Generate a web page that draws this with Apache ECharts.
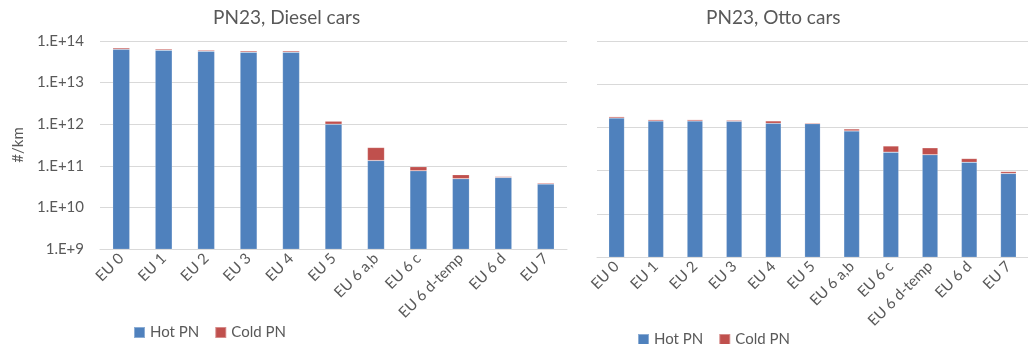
<!DOCTYPE html>
<html>
<head>
<meta charset="utf-8">
<script src="https://cdn.jsdelivr.net/npm/echarts@6/dist/echarts.min.js"></script>
<style>
  html, body { margin: 0; padding: 0; background: #fff; }
  #chart { width: 1028px; height: 344px; }
</style>
</head>
<body>
<div id="chart"></div>
<script>
// Euro emission classes
const categories = ['EU 0', 'EU 1', 'EU 2', 'EU 3', 'EU 4', 'EU 5', 'EU 6 a,b', 'EU 6 c', 'EU 6 d-temp', 'EU 6 d', 'EU 7'];

// Diesel cars, particle number per km (PN23)
const dieselHot  = [6.3e13, 6.0e13, 5.66e13, 5.36e13, 5.36e13, 1.0e12, 1.34e11, 7.6e10, 4.9e10, 5.25e10, 3.64e10];
const dieselCold = [5.0e12, 4.0e12, 3.4e12, 3.9e12, 3.9e12, 1.8e11, 1.41e11, 1.9e10, 1.2e10, 2.8e9, 2.1e9];

// Otto (petrol) cars, particle number per km (PN23)
const ottoHot  = [1.65e12, 1.41e12, 1.41e12, 1.38e12, 1.24e12, 1.22e12, 8.3e11, 2.67e11, 2.33e11, 1.56e11, 8.6e10];
const ottoCold = [1.2e11, 1.0e11, 1.0e11, 8.0e10, 1.7e11, 6.0e10, 9.0e10, 1.04e11, 1.04e11, 3.4e10, 9.0e9];

// Log axis tick labels
const yMin = 1e9;
const yMax = 1e14;
const fmtExp = v => '1.E+' + Math.round(Math.log10(v));

const FONT = 'Lato, "Open Sans", sans-serif';
const TXT = '#595959';
const GRIDC = '#d9d9d9';
const BLUE = '#4f81bd';
const RED = '#c0504d';

const chart = echarts.init(document.getElementById('chart'), null, { renderer: 'canvas' });

function xAxisFor(gridIndex) {
  return {
    type: 'category', gridIndex, data: categories,
    axisLine: { lineStyle: { color: GRIDC } },
    axisTick: { show: false },
    axisLabel: { rotate: 45, color: TXT, fontFamily: FONT, fontSize: 15, margin: 7, interval: 0 }
  };
}

function yAxisFor(gridIndex, showLabels) {
  return {
    type: 'log', gridIndex, logBase: 10, min: yMin, max: yMax,
    name: showLabels ? '#/km' : '',
    nameLocation: 'middle', nameGap: 74, nameRotate: 90,
    nameTextStyle: { color: TXT, fontFamily: FONT, fontSize: 15 },
    axisLine: { show: false }, axisTick: { show: false },
    splitLine: { lineStyle: { color: GRIDC, width: 1 } },
    axisLabel: { show: showLabels, color: TXT, fontFamily: FONT, fontSize: 15, margin: 16, formatter: fmtExp }
  };
}

function barSeries(name, data, color, xi, stack) {
  return {
    name, type: 'bar', stack, data, xAxisIndex: xi, yAxisIndex: xi,
    barWidth: '40%', clip: true,
    itemStyle: { color, borderColor: 'rgba(255,255,255,0.35)', borderWidth: 0.5 }
  };
}

const legendStyle = {
  itemWidth: 11, itemHeight: 11, itemGap: 15,
  icon: 'rect',
  textStyle: { color: TXT, fontFamily: FONT, fontSize: 15 },
  data: ['Hot PN', 'Cold PN']
};

chart.setOption({
  animation: false,
  title: [
    { text: 'PN23, Diesel cars', left: 208, top: 3,
      textStyle: { color: TXT, fontFamily: FONT, fontSize: 19, fontWeight: 'normal' } },
    { text: 'PN23, Otto cars', left: 701, top: 3,
      textStyle: { color: TXT, fontFamily: FONT, fontSize: 19, fontWeight: 'normal' } }
  ],
  legend: [
    Object.assign({ left: 128, top: 320 }, legendStyle),
    Object.assign({ left: 632, top: 327 }, legendStyle)
  ],
  grid: [
    { left: 100, top: 41, width: 467, height: 208 },
    { left: 597, top: 41, width: 442, height: 216 }
  ],
  xAxis: [xAxisFor(0), xAxisFor(1)],
  yAxis: [yAxisFor(0, true), yAxisFor(1, false)],
  series: [
    barSeries('Hot PN', dieselHot, BLUE, 0, 'diesel'),
    barSeries('Cold PN', dieselCold, RED, 0, 'diesel'),
    barSeries('Hot PN', ottoHot, BLUE, 1, 'otto'),
    barSeries('Cold PN', ottoCold, RED, 1, 'otto')
  ]
});
</script>
</body>
</html>
